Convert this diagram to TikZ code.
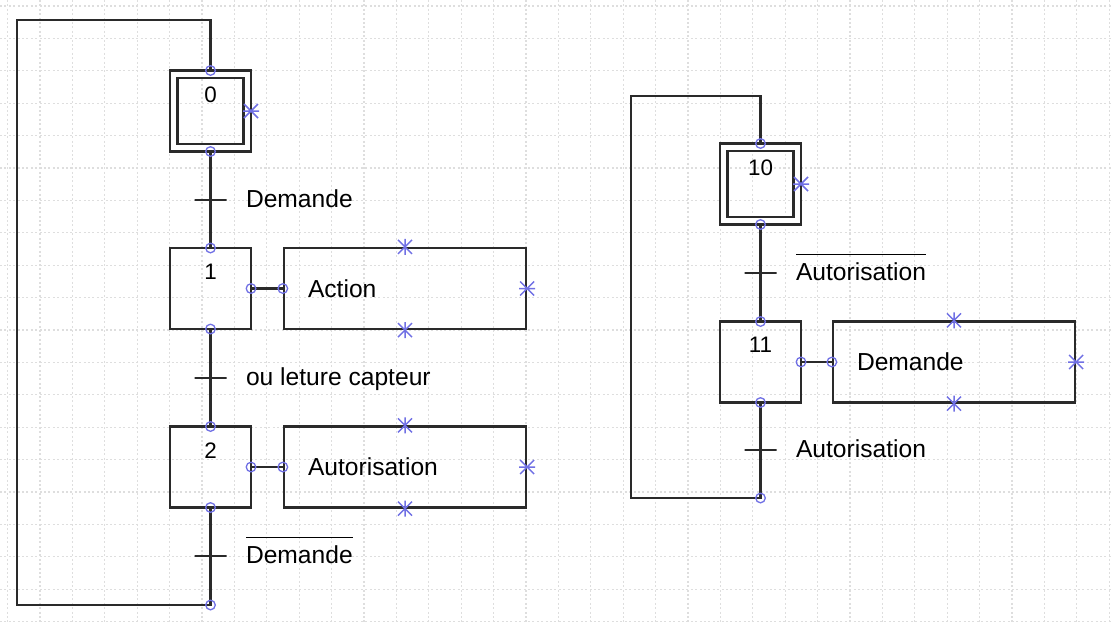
\documentclass[tikz,border=0pt]{standalone}
\usepackage{fontspec}
\setmainfont{Liberation Sans}
\usetikzlibrary{positioning}
\definecolor{TR}{HTML}{2A2A2A}
\definecolor{MK}{HTML}{7070E4}
\definecolor{GR}{HTML}{DEDEDE}
\newcommand{\recepbarre}[1]{\leavevmode\vbox{\hrule height 0.7pt\kern 3.8pt\hbox{#1}}}

\begin{document}
\begin{tikzpicture}[x=0.5pt, y=-0.5pt,
    trait/.style={draw=TR, line width=1.15pt},
    etape/.style={trait, minimum size=40.5pt, inner sep=0pt, outer sep=0pt},
    etapeinit/.style={etape, minimum size=36.75pt, double, double distance=2.6pt,
                      outer sep=1.875pt},
    num/.style={anchor=north, inner sep=0pt, yshift=-7.75pt,
                font=\fontsize{11.2}{11}\selectfont},
    action/.style={trait, minimum width=121pt, minimum height=40.5pt, text width=97pt,
                   inner xsep=12pt, align=left, font=\fontsize{12.3}{14}\selectfont},
    transition/.style={trait, minimum width=16pt, minimum height=0pt, inner sep=0pt},
    recep/.style={inner sep=0pt, text height=9.5pt, text depth=2pt,
                  font=\fontsize{12.3}{14}\selectfont},
    grille/.style={GR, line width=0.6pt, dash pattern=on 1pt off 1.2pt},
    point/.style={draw=MK, line width=0.65pt},
    croix/.style={draw=MK, line width=0.75pt}]
  \useasboundingbox (0,0) rectangle (1112,623);

  %% grid
  \foreach \gx in {0,...,34}
    \draw[grille] (7.5+32.4*\gx,0) -- (7.5+32.4*\gx,623);
  \foreach \gy in {0,...,19}
    \draw[grille] (0,6+32.4*\gy) -- (1112,6+32.4*\gy);

  %% grafcet 1
  \node[etapeinit, label={[num]north:0}] (e0) at (210.5,111) {};
  \node[etape, label={[num]north:1}] (e1) at (210.5,288.5) {};
  \node[etape, label={[num]north:2}] (e2) at (210.5,467) {};
  \node[action] (a1) at (405,288.5) {Action};
  \node[action] (a2) at (405,467) {Autorisation};
  \coordinate (g0) at (210.5,605);
  \coordinate (g1) at (17,605);
  \coordinate (g2) at (17,20);
  \coordinate (g3) at (210.5,20);

  \draw[trait] (e0) -- node[transition] (t1) {} (e1);
  \draw[trait] (e1) -- node[transition] (t2) {} (e2);
  \draw[trait] (e2) -- node[transition] (t3) {} (g0) -- (g1) -- (g2) -- (g3) -- (e0);
  \draw[trait] (e1) -- (a1);
  \draw[trait] (e2) -- (a2);

  \node[recep, right=9pt of t1] (r1) {Demande};
  \node[recep, right=9pt of t2] (r2) {ou leture capteur};
  \node[recep, right=9pt of t3] (r3) {\recepbarre{Demande}};

  %% grafcet 2
  \node[etapeinit, label={[num]north:10}] (e10) at (760.5,184) {};
  \node[etape, label={[num]north:11}] (e11) at (760.5,362) {};
  \node[action] (a11) at (954,362) {Demande};
  \coordinate (h0) at (760.5,498);
  \coordinate (h1) at (631,498);
  \coordinate (h2) at (631,96);
  \coordinate (h3) at (760.5,96);

  \draw[trait] (e10) -- node[transition] (t10) {} (e11);
  \draw[trait] (e11) -- node[transition] (t11) {} (h0) -- (h1) -- (h2) -- (h3) -- (e10);
  \draw[trait] (e11) -- (a11);

  \node[recep, right=9pt of t10] (r10) {\recepbarre{Autorisation}};
  \node[recep, right=9pt of t11] (r11) {Autorisation};

  %% connection points
  \foreach \p in {e0.north, e0.south, e1.north, e1.south, e1.east, a1.west,
                  e2.north, e2.south, e2.east, a2.west, g0,
                  e10.north, e10.south, e11.north, e11.south, e11.east, a11.west, h0}
    \draw[point] (\p) circle (2.4pt);

  %% markers
  \foreach \p in {a1.north, a1.south, a2.north, a2.south, a11.north, a11.south}
    \draw[croix] (\p) +(-7,-7) -- +(7,7) +(-7,7) -- +(7,-7) +(0,-8) -- +(0,8);
  \foreach \p in {a1.east, a2.east, a11.east, e0.east, e10.east}
    \draw[croix] (\p) +(-7,-7) -- +(7,7) +(-7,7) -- +(7,-7) +(-8,0) -- +(8,0);
\end{tikzpicture}
\end{document}
